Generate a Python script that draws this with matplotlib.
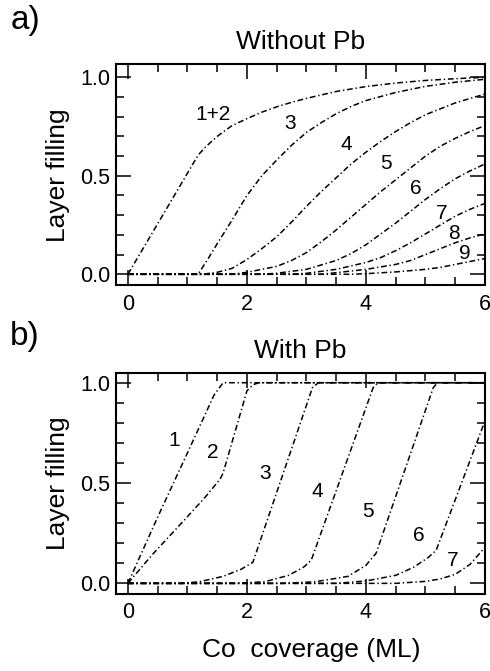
import numpy as np
import matplotlib
matplotlib.use('Agg')
import matplotlib.pyplot as plt
from matplotlib.ticker import MultipleLocator, FixedLocator

plt.rcParams['font.family'] = ['Liberation Sans', 'DejaVu Sans']

# ----------------------------------------------------------------------
# a) without Pb : layer filling of each layer vs Co coverage (ML)
# ----------------------------------------------------------------------
a_x_12 = [0, 1.18, 1.3, 1.5, 1.75, 2.0, 2.25, 2.5, 2.75, 3.0, 3.5, 4.0, 4.5, 5.0, 5.5, 6.0]
a_y_12 = [0, 0.605, 0.645, 0.70, 0.755, 0.79, 0.823, 0.85, 0.873, 0.893, 0.928, 0.953, 0.971, 0.984, 0.993, 1.0]

a_x_3 = [0, 1.18, 1.35, 1.5, 1.75, 2.0, 2.25, 2.5, 2.75, 3.0, 3.25, 3.5, 3.75, 4.0, 4.5, 5.0, 5.5, 6.0]
a_y_3 = [0, 0, 0.08, 0.155, 0.275, 0.40, 0.50, 0.58, 0.655, 0.72, 0.77, 0.815, 0.852, 0.882, 0.923, 0.954, 0.975, 0.99]

a_x_4 = [0, 1.25, 1.5, 1.75, 2.0, 2.25, 2.5, 2.75, 3.0, 3.25, 3.5, 3.75, 4.0, 4.25, 4.5, 4.75, 5.0, 5.5, 6.0]
a_y_4 = [0, 0, 0.01, 0.03, 0.075, 0.13, 0.19, 0.265, 0.345, 0.42, 0.49, 0.56, 0.62, 0.675, 0.725, 0.77, 0.81, 0.87, 0.915]

a_x_5 = [0, 1.75, 2.0, 2.5, 2.75, 3.0, 3.25, 3.5, 3.75, 4.0, 4.25, 4.5, 4.75, 5.0, 5.25, 5.5, 5.75, 6.0]
a_y_5 = [0, 0, 0.01, 0.04, 0.07, 0.11, 0.165, 0.225, 0.29, 0.355, 0.42, 0.48, 0.54, 0.60, 0.65, 0.69, 0.725, 0.755]

a_x_6 = [0, 2.25, 2.5, 3.0, 3.5, 3.75, 4.0, 4.25, 4.5, 4.75, 5.0, 5.25, 5.5, 5.75, 6.0]
a_y_6 = [0, 0, 0.005, 0.025, 0.07, 0.105, 0.15, 0.205, 0.26, 0.32, 0.38, 0.435, 0.485, 0.525, 0.56]

a_x_7 = [0, 2.75, 3.0, 3.5, 4.0, 4.25, 4.5, 4.75, 5.0, 5.25, 5.5, 5.75, 6.0]
a_y_7 = [0, 0, 0.005, 0.025, 0.06, 0.085, 0.12, 0.16, 0.205, 0.25, 0.295, 0.33, 0.36]

a_x_8 = [0, 3.25, 3.5, 4.0, 4.5, 4.75, 5.0, 5.25, 5.5, 5.75, 6.0]
a_y_8 = [0, 0, 0.008, 0.025, 0.05, 0.07, 0.10, 0.13, 0.16, 0.185, 0.205]

a_x_9 = [0, 3.75, 4.0, 4.5, 5.0, 5.25, 5.5, 5.75, 6.0]
a_y_9 = [0, 0, 0.003, 0.012, 0.025, 0.035, 0.05, 0.065, 0.08]

a_labels = ['1+2', '3', '4', '5', '6', '7', '8', '9']

# ----------------------------------------------------------------------
# b) with Pb
# ----------------------------------------------------------------------
b_x_1 = [0, 0.5, 1.0, 1.45, 1.6, 6.0]
b_y_1 = [0, 0.33, 0.65, 0.94, 1.0, 1.0]

b_x_2 = [0, 0.4, 0.9, 1.3, 1.55, 1.6, 2.0, 2.1, 2.2, 6.0]
b_y_2 = [0, 0.14, 0.30, 0.43, 0.52, 0.55, 0.96, 0.99, 1.0, 1.0]

b_x_3 = [0, 0.9, 1.2, 1.6, 1.9, 2.1, 3.1, 3.2, 6.0]
b_y_3 = [0, 0, 0.008, 0.035, 0.07, 0.105, 0.975, 1.0, 1.0]

b_x_4 = [0, 1.8, 2.3, 2.7, 2.95, 3.08, 4.12, 4.2, 6.0]
b_y_4 = [0, 0, 0.008, 0.04, 0.08, 0.115, 0.975, 1.0, 1.0]

b_x_5 = [0, 2.6, 3.15, 3.7, 4.0, 4.17, 5.13, 5.2, 6.0]
b_y_5 = [0, 0, 0.008, 0.035, 0.09, 0.15, 0.975, 1.0, 1.0]

b_x_6 = [0, 3.5, 4.0, 4.5, 4.8, 5.05, 5.18, 6.0]
b_y_6 = [0, 0, 0.012, 0.04, 0.08, 0.13, 0.165, 0.81]

b_x_7 = [0, 4.5, 5.0, 5.25, 5.5, 5.75, 6.0]
b_y_7 = [0, 0, 0.01, 0.022, 0.045, 0.095, 0.18]

b_labels = ['1', '2', '3', '4', '5', '6', '7']

# where the curve numbers sit (data coords)
a_label_pos = [(1.43, 0.81), (2.72, 0.763), (3.67, 0.66), (4.34, 0.563),
               (4.83, 0.437), (5.27, 0.31), (5.47, 0.208), (5.66, 0.107)]
b_label_pos = [(0.78, 0.714), (1.43, 0.651), (2.3, 0.548), (3.19, 0.457),
               (4.03, 0.357), (4.89, 0.241), (5.46, 0.116)]

a_curves = [(a_x_12, a_y_12), (a_x_3, a_y_3), (a_x_4, a_y_4), (a_x_5, a_y_5),
            (a_x_6, a_y_6), (a_x_7, a_y_7), (a_x_8, a_y_8), (a_x_9, a_y_9)]
b_curves = [(b_x_1, b_y_1), (b_x_2, b_y_2), (b_x_3, b_y_3), (b_x_4, b_y_4),
            (b_x_5, b_y_5), (b_x_6, b_y_6), (b_x_7, b_y_7)]

DASHES = (3.8, 1.8, 0.9, 1.8)


def _style_axes(ax, ylim):
    ax.set_xlim(-0.2, 6.0)
    ax.set_ylim(*ylim)
    ax.xaxis.set_major_locator(FixedLocator([0, 2, 4, 6]))
    ax.xaxis.set_minor_locator(MultipleLocator(0.5))
    ax.yaxis.set_major_locator(FixedLocator([0.0, 0.5, 1.0]))
    ax.yaxis.set_minor_locator(MultipleLocator(0.1))
    ax.set_yticklabels(['0.0', '0.5', '1.0'])
    ax.tick_params(which='both', direction='in', top=True, right=True, width=1.1)
    ax.tick_params(which='major', length=10.5)
    ax.tick_params(which='minor', length=5.5)
    ax.tick_params(axis='x', which='major', pad=6.0, labelsize=15.5)
    ax.tick_params(axis='y', which='major', pad=4.0, labelsize=15.5)
    for sp in ax.spines.values():
        sp.set_linewidth(1.5)


def _draw(ax, curves, labels, label_pos):
    for (xs, ys) in curves:
        ax.plot(xs, ys, color='black', lw=1.1, dashes=DASHES)
    for lab, (lx, ly) in zip(labels, label_pos):
        ax.text(lx, ly, lab, ha='center', va='center', fontsize=15)


W, H = 490, 671
fig = plt.figure(figsize=(W / 100, H / 100), dpi=100)

ax_a = fig.add_axes([116 / W, (H - 285.3) / H, 369 / W, 221 / H])
ax_b = fig.add_axes([116 / W, (H - 594) / H, 369 / W, 220.7 / H])

_draw(ax_a, a_curves, a_labels, a_label_pos)
_style_axes(ax_a, (-0.056, 1.066))
ax_a.set_title('Without Pb', fontsize=19, pad=11)

_draw(ax_b, b_curves, b_labels, b_label_pos)
_style_axes(ax_b, (-0.053, 1.047))
ax_b.set_title('With Pb', fontsize=19, pad=11)

for ax in (ax_a, ax_b):
    bb = ax.get_position()
    fig.text(57.5 / W, bb.y0 + bb.height / 2, 'Layer filling', rotation=90,
             ha='center', va='center', fontsize=19)

fig.text(25 / W, 1 - 21 / H, 'a)', ha='center', va='center', fontsize=24)
fig.text(25 / W, 1 - 336 / H, 'b)', ha='center', va='center', fontsize=24)
fig.text(311.7 / W, 1 - 650 / H, 'Co  coverage (ML)', ha='center', va='center', fontsize=19)

fig.savefig('out.png', dpi=100)
